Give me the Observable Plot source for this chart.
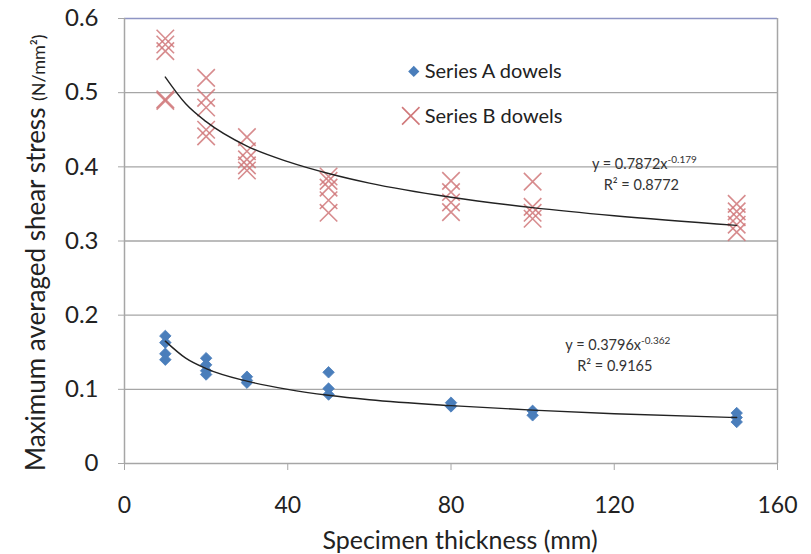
<!DOCTYPE html>
<html><head><meta charset="utf-8">
<script src="https://cdn.jsdelivr.net/npm/d3@7"></script>
<script src="https://cdn.jsdelivr.net/npm/@observablehq/plot@0.6"></script>
<style>body{margin:0;background:#fff;} #chart{width:811px;height:554px;}</style>
</head><body><div id="chart"></div>
<script>
// Series A dowels (diamonds)
const seriesAThickness = [10,10,10,10, 20,20,20,20, 30,30,30, 50,50,50, 80,80, 100,100, 150,150,150];
const seriesAStress    = [0.172,0.163,0.148,0.140, 0.142,0.133,0.125,0.120, 0.117,0.112,0.109, 0.123,0.101,0.093, 0.082,0.077, 0.071,0.065, 0.068,0.062,0.056];
// Series B dowels (crosses)
const seriesBThickness = [10,10,10,10,10, 20,20,20,20,20, 30,30,30,30,30, 50,50,50,50,50, 80,80,80,80, 100,100,100,100, 150,150,150,150,150];
const seriesBStress    = [0.573,0.565,0.556,0.491,0.489, 0.520,0.493,0.480,0.450,0.441, 0.440,0.421,0.410,0.402,0.395, 0.387,0.381,0.372,0.355,0.338, 0.381,0.366,0.352,0.339, 0.380,0.346,0.338,0.330, 0.350,0.340,0.332,0.322,0.312];
// Power trend lines (y = a x^b) as read/displayed
const trendThickness = [10,15,20,30,40,50,60,80,100,120,150];
const trendA = [0.165,0.142,0.128,0.111,0.100,0.092,0.086,0.078,0.072,0.067,0.062];
const trendB = [0.521,0.485,0.461,0.428,0.407,0.391,0.378,0.359,0.345,0.334,0.321];
const eqA = ["y = 0.3796x", "-0.362", "R² = 0.9165"];
const eqB = ["y = 0.7872x", "-0.179", "R² = 0.8772"];
const legendLabels = ["Series A dowels", "Series B dowels"];
const xTicks = [0,40,80,120,160];
const yTicks = [0,0.1,0.2,0.3,0.4,0.5,0.6];

const A = seriesAThickness.map((x,i)=>({x, y: seriesAStress[i]}));
const B = seriesBThickness.map((x,i)=>({x, y: seriesBStress[i]}));
const TA = trendThickness.map((x,i)=>({x, y: trendA[i]}));
const TB = trendThickness.map((x,i)=>({x, y: trendB[i]}));

const blue = "#4a7ebb", red = "#d0787a", grid = "#a6a6a6", font = "Lato, 'Open Sans', sans-serif";

const plot = Plot.plot({
  width: 811, height: 554,
  marginLeft: 124, marginRight: 34, marginTop: 18, marginBottom: 91,
  style: {fontFamily: font, fontSize: "24px", color: "#222", background: "#fff"},
  x: {domain: [0,160]},
  y: {domain: [0,0.6]},
  marks: [
    Plot.gridY(yTicks.slice(1,-1), {stroke: grid, strokeOpacity: 1, strokeWidth: 1.3}),
    Plot.ruleY([0.6], {stroke: "#8e95c4", strokeWidth: 1.5}),
    Plot.ruleX([160], {stroke: grid, strokeWidth: 1.5}),
    Plot.ruleX([0], {stroke: grid, strokeWidth: 1.5}),
    Plot.ruleY([0], {stroke: grid, strokeWidth: 1.5}),
    Plot.axisX({ticks: xTicks, tickSize: 7, tickPadding: 26, fontSize: 23, stroke: grid, tickFormat: d => String(d), label: null}),
    Plot.axisY({ticks: yTicks, tickSize: 6, tickPadding: 20, stroke: grid, tickFormat: d => String(d), label: null}),
    Plot.dot(B, {x: "x", y: "y", symbol: "times", r: 8, stroke: red, strokeWidth: 1.6, strokeOpacity: 0.85}),
    Plot.dot(A, {x: "x", y: "y", symbol: "diamond2", r: 5.2, fill: blue, stroke: blue, strokeWidth: 0.8}),
    Plot.line(TB, {x: "x", y: "y", curve: "monotone-x", stroke: "#222", strokeWidth: 1.4}),
    Plot.line(TA, {x: "x", y: "y", curve: "monotone-x", stroke: "#222", strokeWidth: 1.4})
  ]
});
document.getElementById("chart").append(plot);

const svg = d3.select(plot);
const sx = plot.scale("x"), sy = plot.scale("y");
const g = svg.append("g").attr("font-family", font).attr("fill", "#222");

// Axis titles
const yl = g.append("text").attr("text-anchor", "start")
  .attr("transform", "translate(45,471) rotate(-90)").attr("font-size", 26);
yl.append("tspan").text("Maximum averaged shear stress ");
yl.append("tspan").attr("font-size", 18).text("(N/mm²)");
g.append("text").attr("text-anchor", "middle").attr("x", 460).attr("y", 549)
  .attr("font-size", 25).text("Specimen thickness (mm)");

// Legend inside plot
const lx = sx.apply(71), ly1 = sy.apply(0.528), ly2 = sy.apply(0.468);
g.append("path").attr("d", d3.symbol(d3.symbolDiamond2, 80)()).attr("transform", `translate(${lx},${ly1})`).attr("fill", blue);
g.append("path").attr("d", d3.symbol(d3.symbolTimes, 200)()).attr("transform", `translate(${lx-3},${ly2})`).attr("stroke", red).attr("stroke-width", 1.6).attr("fill", "none");
g.append("text").attr("text-anchor", "start").attr("x", lx + 11).attr("y", ly1).attr("dy", "0.35em").attr("font-size", 20).text(legendLabels[0]);
g.append("text").attr("text-anchor", "start").attr("x", lx + 11).attr("y", ly2).attr("dy", "0.35em").attr("font-size", 20).text(legendLabels[1]);

// Trend equations
function eq(e, cx, y1, y2) {
  const t = g.append("text").attr("text-anchor", "middle").attr("x", cx).attr("y", y1).attr("font-size", 14.5).attr("fill", "#333");
  t.append("tspan").text(e[0]);
  t.append("tspan").attr("font-size", 10).attr("dy", -6).text(e[1]);
  g.append("text").attr("text-anchor", "middle").attr("x", cx - 3).attr("y", y2).attr("font-size", 14.5).attr("fill", "#333").text(e[2]);
}
eq(eqB, sx.apply(127.5), sy.apply(0.397), sy.apply(0.368));
eq(eqA, sx.apply(121), sy.apply(0.152), sy.apply(0.124));
</script></body></html>
